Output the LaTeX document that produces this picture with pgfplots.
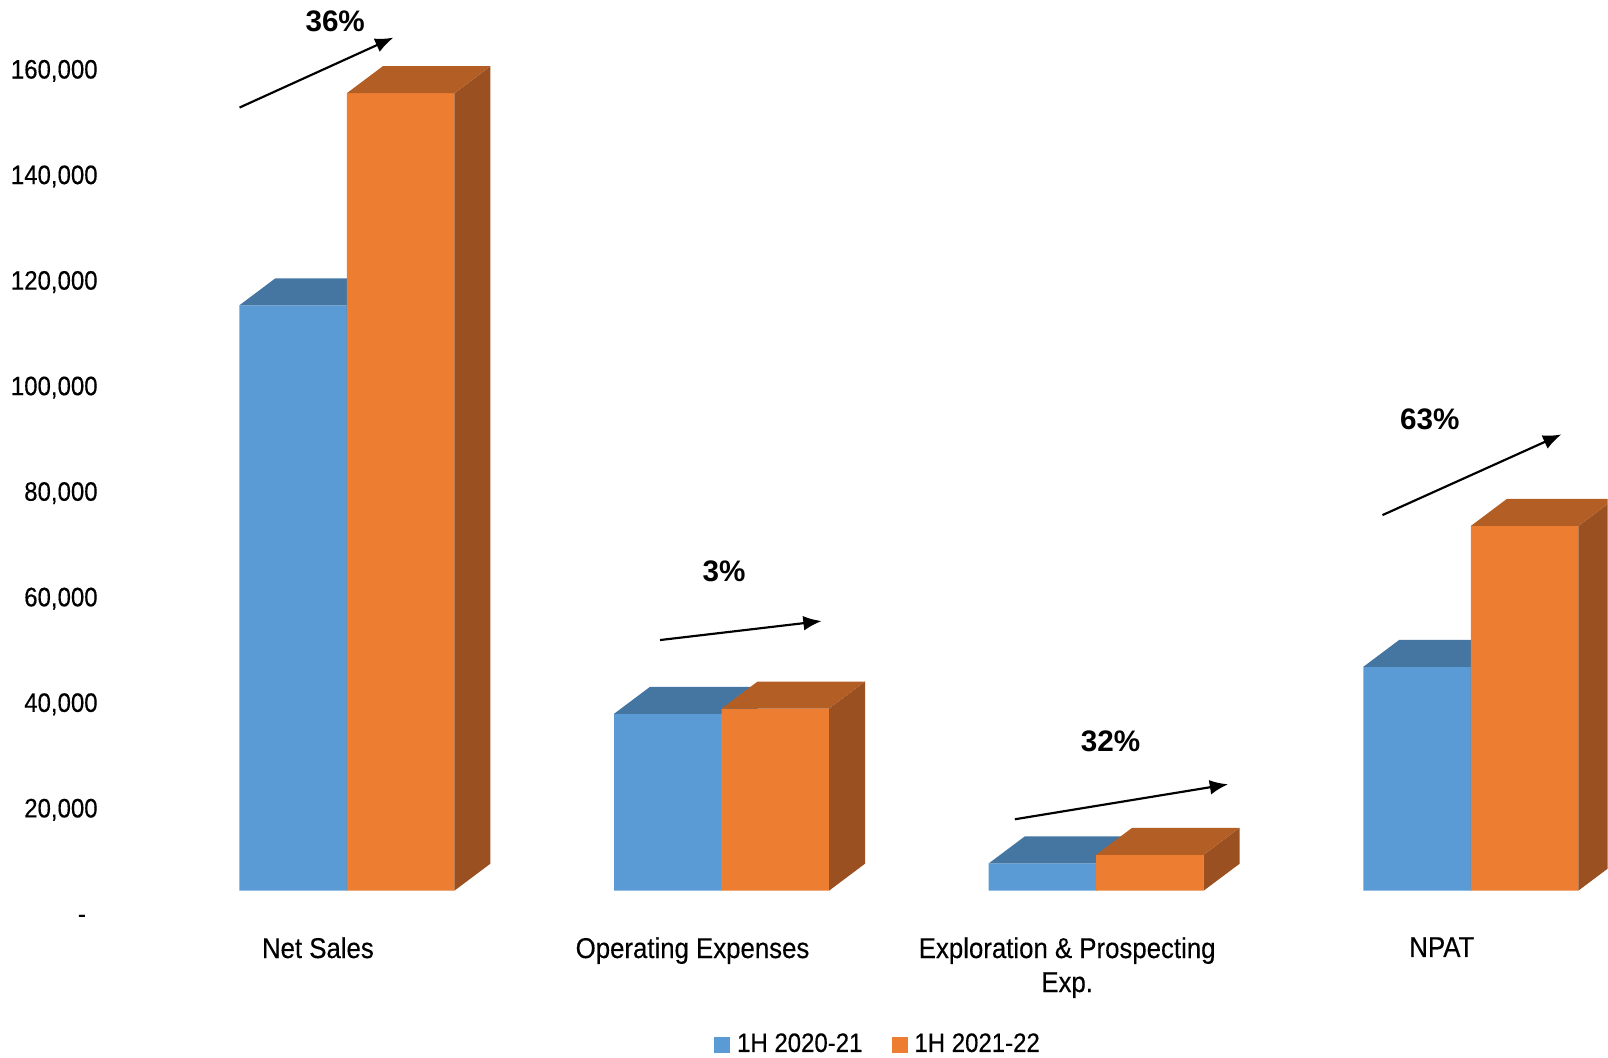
\documentclass[border=0pt]{standalone}
\usepackage{pgfplots}
\pgfplotsset{compat=1.18}
\usepackage{pgfplotstable}
\usetikzlibrary{arrows.meta}
\usepackage{fontspec}
\setmainfont{Liberation Sans}
\newfontfamily\narrow[FakeStretch=0.90,FakeBold=0.35]{Liberation Sans}

\definecolor{blueF}{HTML}{5B9BD5}
\definecolor{blueT}{HTML}{4575A1}
\definecolor{blueS}{HTML}{3B6690}
\definecolor{orF}{HTML}{ED7D31}
\definecolor{orT}{HTML}{B35E24}
\definecolor{orS}{HTML}{9A5020}

\pgfplotstableread{
x blue orange
0 110900 151100
1 33500 34500
2 5150 6800
3 42400 69100
}\datatable

\begin{document}
\begin{tikzpicture}
\begin{axis}[
  scale only axis, width=482.4pt, height=317.1pt,
  xmin=-0.92502, xmax=3.36526, ymin=-31496, ymax=168693,
  enlargelimits=false,
  axis line style={draw=none}, major tick length=0pt,
  scaled ticks=false,
  ytick={0,20000,40000,60000,80000,100000,120000,140000,160000},
  yticklabels={{-\rule{3.5pt}{0pt}},{20,000},{40,000},{60,000},{80,000},{100,000},{120,000},{140,000},{160,000}},
  yticklabel style={font=\narrow\fontsize{8.0}{9}\selectfont, anchor=base east, inner sep=0pt, xshift=29.4pt, yshift=-9.7pt},
  xtick={0,1,2,3},
  xticklabels={Net Sales,Operating Expenses,{Exploration \& Prospecting\\Exp.},NPAT},
  xticklabel style={font=\narrow\fontsize{8.6}{10.2}\selectfont, align=center, anchor=north, inner sep=0pt, xshift=-8.7pt, yshift=36.1pt},
  legend columns=2,
  legend style={at={(0.5455,0.0111)}, anchor=center, draw=none, fill=none, inner sep=0pt,
    font=\narrow\fontsize{8.0}{9}\selectfont,
    nodes={inner sep=0pt},
    /tikz/every odd column/.append style={column sep=2pt},
    /tikz/every even column/.append style={column sep=8.8pt}},
]
% blue front faces
\addplot[ybar, bar width=0.287, bar shift=-0.1435, fill=blueF, draw=none,
  legend image code/.code={\fill[blueF] (0pt,-2.4pt) rectangle (4.8pt,2.4pt);}]
  table[x=x,y=blue]{\datatable};
\addlegendentry{1H 2020-21}
% blue side and top faces
\pgfplotsinvokeforeach{0,1,2,3}{
  \pgfplotstablegetelem{#1}{blue}\of\datatable
  \edef\tmp{\noexpand\addplot[fill=blueS, draw=none, mark=none, forget plot] coordinates {(#1,0) (\fpeval{#1+0.0961},5114) (\fpeval{#1+0.0961},\fpeval{\pgfplotsretval+5114}) (#1,\pgfplotsretval)};
  \noexpand\addplot[fill=blueT, draw=none, mark=none, forget plot] coordinates {(\fpeval{#1-0.287},\pgfplotsretval) (\fpeval{#1-0.287+0.0961},\fpeval{\pgfplotsretval+5114}) (\fpeval{#1+0.0961},\fpeval{\pgfplotsretval+5114}) (#1,\pgfplotsretval)};}
  \tmp
}
% orange front faces
\addplot[ybar, bar width=0.287, bar shift=0.1435, fill=orF, draw=none,
  legend image code/.code={\fill[orF] (0pt,-2.4pt) rectangle (4.8pt,2.4pt);}]
  table[x=x,y=orange]{\datatable};
\addlegendentry{1H 2021-22}
% orange side and top faces
\pgfplotsinvokeforeach{0,1,2,3}{
  \pgfplotstablegetelem{#1}{orange}\of\datatable
  \edef\tmp{\noexpand\addplot[fill=orS, draw=none, mark=none, forget plot] coordinates {(\fpeval{#1+0.287},0) (\fpeval{#1+0.3831},5114) (\fpeval{#1+0.3831},\fpeval{\pgfplotsretval+5114}) (\fpeval{#1+0.287},\pgfplotsretval)};
  \noexpand\addplot[fill=orT, draw=none, mark=none, forget plot] coordinates {(#1,\pgfplotsretval) (\fpeval{#1+0.0961},\fpeval{\pgfplotsretval+5114}) (\fpeval{#1+0.3831},\fpeval{\pgfplotsretval+5114}) (\fpeval{#1+0.287},\pgfplotsretval)};}
  \tmp
}
% growth annotations
\draw[-{Latex[length=5.5pt,width=4.4pt]}, line width=0.65pt] (axis cs:-0.28655,148371) -- (axis cs:0.12433,161628);
\node[font=\bfseries\fontsize{8.9}{10}\selectfont] at (axis cs:-0.03122,164716) {36\%};
\draw[-{Latex[length=5.5pt,width=4.4pt]}, line width=0.65pt] (axis cs:0.83591,47481) -- (axis cs:1.26734,51080);
\node[font=\bfseries\fontsize{8.9}{10}\selectfont] at (axis cs:1.00667,60417) {3\%};
\draw[-{Latex[length=5.5pt,width=4.4pt]}, line width=0.65pt] (axis cs:1.78308,13523) -- (axis cs:2.35219,20151);
\node[font=\bfseries\fontsize{8.9}{10}\selectfont] at (axis cs:2.03842,28220) {32\%};
\draw[-{Latex[length=5.5pt,width=4.4pt]}, line width=0.65pt] (axis cs:2.76414,71155) -- (axis cs:3.24173,86439);
\node[font=\bfseries\fontsize{8.9}{10}\selectfont] at (axis cs:2.89034,89279) {63\%};
\end{axis}
\end{tikzpicture}
\end{document}
